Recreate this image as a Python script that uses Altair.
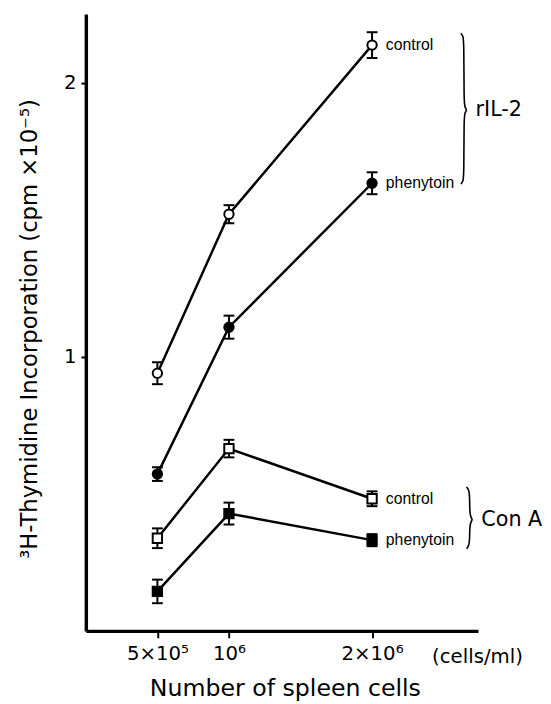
import altair as alt
import pandas as pd

# ---- data ----
cells = [5e5, 1e6, 2e6]
tick_labels = ["5×10⁵", "10⁶", "2×10⁶"]

il2_control = [0.94, 1.52, 2.137]
il2_control_err = [0.040, 0.033, 0.047]
il2_phenytoin = [0.572, 1.108, 1.633]
il2_phenytoin_err = [0.025, 0.042, 0.040]
cona_control = [0.338, 0.665, 0.482]
cona_control_err = [0.036, 0.032, 0.027]
cona_phenytoin = [0.144, 0.428, 0.331]
cona_phenytoin_err = [0.043, 0.040, 0.022]

series_names = ["rIL-2 control", "rIL-2 phenytoin", "Con A control", "Con A phenytoin"]
series_labels = ["control", "phenytoin", "control", "phenytoin"]
series_shapes = ["circle", "circle", "square", "square"]
series_fill = ["white", "black", "white", "black"]
series_values = [il2_control, il2_phenytoin, cona_control, cona_phenytoin]
series_errors = [il2_control_err, il2_phenytoin_err, cona_control_err, cona_phenytoin_err]

group_names = ["rIL-2", "Con A"]
brace_x = [2.62e6, 2.66e6]
brace_top = [2.18, 0.525]
brace_mid = [1.90, 0.406]
brace_bottom = [1.63, 0.30]

rows = []
for name, lab, shp, fil, vals, errs in zip(series_names, series_labels, series_shapes,
                                           series_fill, series_values, series_errors):
    for x, v, e in zip(cells, vals, errs):
        rows.append(dict(series=name, label=lab, shape=shp, fill=fil, x=x, y=v,
                         lo=v - e, hi=v + e, last=(x == cells[-1])))
df = pd.DataFrame(rows)

# brace outlines (annotation shapes)
w = 0.022e6
d = 0.03
brace_rows = []
for g, bx, bt, bm, bb in zip(group_names, brace_x, brace_top, brace_mid, brace_bottom):
    pts = [(bx, bt), (bx + 0.7 * w, bt - 0.3 * d), (bx + w, bt - d),
           (bx + w, bm + d), (bx + 1.3 * w, bm + 0.3 * d), (bx + 2 * w, bm),
           (bx + 1.3 * w, bm - 0.3 * d), (bx + w, bm - d),
           (bx + w, bb + d), (bx + 0.7 * w, bb + 0.3 * d), (bx, bb)]
    for i, (px, py) in enumerate(pts):
        brace_rows.append(dict(group=g, order=i, x=px, y=py))
brace_df = pd.DataFrame(brace_rows)
group_df = pd.DataFrame(dict(group=group_names, x=brace_x, y=brace_mid))

label_expr = ("datum.value == 500000 ? '" + tick_labels[0] + "' : datum.value == 1000000 ? '"
              + tick_labels[1] + "' : datum.value == 2000000 ? '" + tick_labels[2] + "' : ''")

x_axis = alt.Axis(values=cells, labelExpr=label_expr, title="Number of spleen cells",
                  tickSize=7, labelPadding=6, labelFontSize=20, labelFont="DejaVu Sans",
                  titleFontSize=24, titleFont="DejaVu Sans", titleFontWeight="normal",
                  titleX=202, titleY=66, titleBaseline="alphabetic", titleAlign="center")
y_axis = alt.Axis(values=[1, 2], format="d",
                  title="³H-Thymidine Incorporation (cpm ×10⁻⁵)",
                  tickSize=5, labelPadding=5, labelFontSize=20, labelFont="DejaVu Sans",
                  titleFontSize=23, titleFont="DejaVu Sans", titleFontWeight="normal",
                  titleX=-57, titleY=319, titleAngle=270, titleAlign="center",
                  titleBaseline="middle")

xs = alt.Scale(domain=[0, 2.74e6], nice=False, zero=False)
ys = alt.Scale(domain=[0, 2.25], nice=False, zero=False)


def X(field):
    return alt.X(field, type="quantitative", scale=xs, axis=x_axis)


def Y(field):
    return alt.Y(field, type="quantitative", scale=ys, axis=y_axis)


lines = alt.Chart(df).mark_line(color="black", strokeWidth=2.5).encode(
    x=X("x"), y=Y("y"), detail="series:N")
rules = alt.Chart(df).mark_rule(color="black", strokeWidth=2).encode(
    x=X("x"), y=Y("lo"), y2="hi")
cap_lo = alt.Chart(df).mark_tick(orient="horizontal", color="black", thickness=2,
                                 size=11, opacity=1).encode(x=X("x"), y=Y("lo"))
cap_hi = alt.Chart(df).mark_tick(orient="horizontal", color="black", thickness=2,
                                 size=11, opacity=1).encode(x=X("x"), y=Y("hi"))
points = alt.Chart(df).mark_point(filled=True, stroke="black", strokeWidth=2,
                                  opacity=1, size=90).encode(
    x=X("x"), y=Y("y"),
    shape=alt.Shape("shape:N", scale=None),
    fill=alt.Fill("fill:N", scale=None))
end_labels = alt.Chart(df).transform_filter("datum.last").mark_text(
    align="left", baseline="middle", dx=14, fontSize=16, font="Liberation Sans",
    color="black").encode(x=X("x"), y=Y("y"), text="label:N")
braces = alt.Chart(brace_df).mark_line(color="black", strokeWidth=1.6,
                                       interpolate="basis").encode(
    x=X("x"), y=Y("y"), detail="group:N", order="order:Q")
group_labels = alt.Chart(group_df).mark_text(
    align="left", baseline="middle", dx=15, fontSize=21, font="DejaVu Sans",
    color="black").encode(x=X("x"), y=Y("y"), text="group:N")
unit_df = pd.DataFrame(dict(x=[cells[-1]], y=[0.0], t=["(cells/ml)"]))
unit_label = alt.Chart(unit_df).mark_text(
    align="center", baseline="alphabetic", dx=107, dy=33, fontSize=20,
    font="DejaVu Sans", color="black").encode(x=X("x"), y=Y("y"), text="t:N")

chart = alt.layer(lines, rules, cap_lo, cap_hi, points, end_labels, braces,
                  group_labels, unit_label).properties(
    width=398, height=626,
    autosize=alt.AutoSizeParams(type="none"),
    padding={"left": 79, "top": 1, "right": 66, "bottom": 69},
    background="white",
).configure_axis(
    domainColor="black", domainWidth=3.5, tickColor="black", tickWidth=2,
    grid=False, labelColor="black", titleColor="black",
).configure_view(stroke=None)

chart.save("out.html", embed_options={"renderer": "svg", "actions": False})
